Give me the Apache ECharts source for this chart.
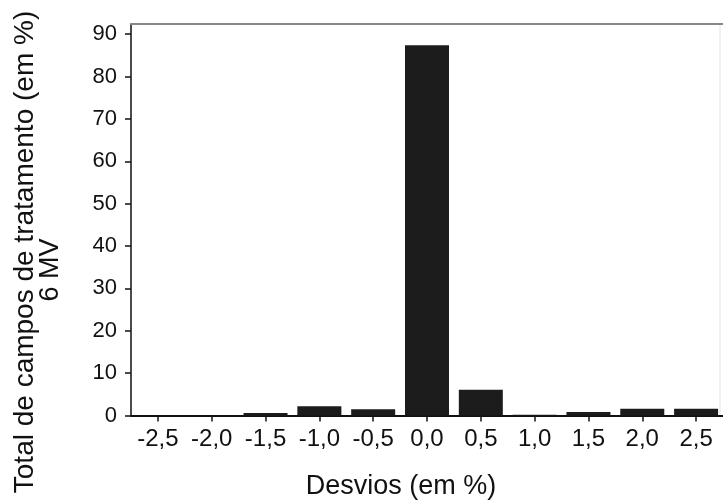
<!DOCTYPE html>
<html>
<head>
<meta charset="utf-8">
<script src="https://cdn.jsdelivr.net/npm/echarts@6/dist/echarts.min.js"></script>
<style>html,body{margin:0;padding:0;background:#fff}#c{width:723px;height:503px}</style>
</head>
<body>
<div id="c"></div>
<script>
var categories = ['-2,5','-2,0','-1,5','-1,0','-0,5','0,0','0,5','1,0','1,5','2,0','2,5'];
var values = [0, 0, 0.6, 2.2, 1.5, 87.4, 6.1, 0.2, 0.8, 1.6, 1.6];
var yTicks = [0,10,20,30,40,50,60,70,80,90];
var xTitle = 'Desvios (em %)';
var yTitle1 = 'Total de campos de tratamento (em %)';
var yTitle2 = '6 MV';

var FONT = 'Arial, "Liberation Sans", sans-serif';
var chart = echarts.init(document.getElementById('c'), null, {renderer:'canvas'});
chart.setOption({
  backgroundColor:'#fff',
  animation:false,
  grid:{left:131, top:24, width:600, height:391.5},
  xAxis:[{
    type:'category', data:categories,
    axisLine:{lineStyle:{color:'#111', width:2}},
    axisTick:{show:true, alignWithLabel:true, length:6, lineStyle:{color:'#111', width:1.5}},
    axisLabel:{color:'#111', fontSize:24, fontFamily:FONT, margin:12, interval:0},
    splitLine:{show:false}
  },{
    type:'category', data:categories, position:'top',
    axisLine:{lineStyle:{color:'#888', width:2}},
    axisTick:{show:false}, axisLabel:{show:false}
  }],
  yAxis:{
    type:'value', min:0, max:92.4, interval:10,
    axisLine:{show:true, lineStyle:{color:'#111', width:1.5}},
    axisTick:{show:true, length:6, lineStyle:{color:'#111', width:1.5}},
    axisLabel:{color:'#111', fontSize:22, fontFamily:FONT, margin:14, showMaxLabel:false,
      formatter:function(v){return yTicks.indexOf(v)>=0 ? String(v) : '';}},
    splitLine:{show:false}
  },
  graphic:[
    {type:'text', x:25, y:252, rotation:Math.PI/2,
     style:{text:yTitle1, fill:'#111', font:'28px '+FONT, textAlign:'center', textVerticalAlign:'middle'}},
    {type:'text', x:51, y:270, rotation:Math.PI/2,
     style:{text:yTitle2, fill:'#111', font:'27px '+FONT, textAlign:'center', textVerticalAlign:'middle'}},
    {type:'text', x:401, y:487,
     style:{text:xTitle, fill:'#111', font:'27px '+FONT, textAlign:'center', textVerticalAlign:'middle'}},
    {type:'line', shape:{x1:720, y1:24, x2:720, y2:415}, style:{stroke:'#e2e2e2', lineWidth:1}}
  ],
  series:[{
    type:'bar', data:values, barWidth:44,
    itemStyle:{color:'#1c1c1c'}
  }]
});
</script>
</body>
</html>
